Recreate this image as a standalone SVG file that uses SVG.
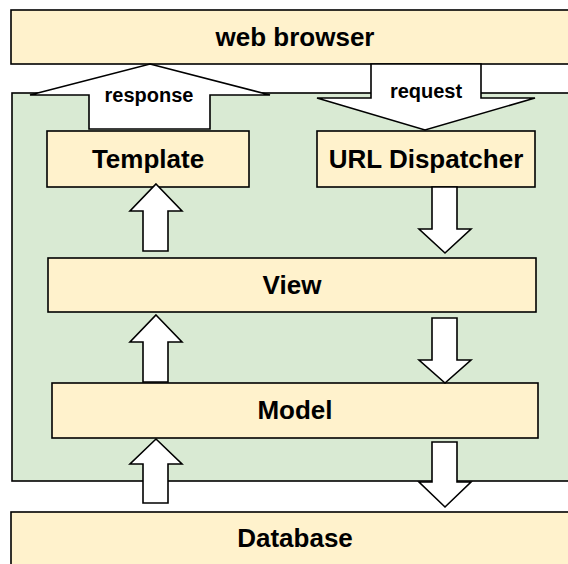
<svg xmlns="http://www.w3.org/2000/svg" width="568" height="564" viewBox="0 0 568 564">
  <style>
    .box { fill: #fff2cc; stroke: #000; stroke-width: 1.6; }
    .area { fill: #d9ead3; stroke: #000; stroke-width: 1.6; }
    .arrow { fill: #fff; stroke: #000; stroke-width: 1.6; stroke-linejoin: miter; }
    .lbl { font-family: "Liberation Sans", Arial, sans-serif; font-weight: bold; font-size: 26px; fill: #000; text-anchor: middle; }
    .small { font-size: 20px; }
  </style>
  <rect width="568" height="564" fill="#fff"/>

  <!-- application area -->
  <rect id="app-area" class="area" x="12" y="93" width="570" height="388"/>

  <g id="web-browser">
    <rect class="box" x="11" y="10" width="572" height="54"/>
    <text class="lbl" x="295" y="46">web browser</text>
  </g>

  <g id="database">
    <rect class="box" x="11" y="512" width="572" height="60"/>
    <text class="lbl" x="295" y="547">Database</text>
  </g>

  <g id="template">
    <rect class="box" x="47" y="131" width="202" height="56"/>
    <text class="lbl" x="148" y="168">Template</text>
  </g>

  <g id="url-dispatcher">
    <rect class="box" x="317" y="131" width="218" height="56"/>
    <text class="lbl" x="426" y="168">URL Dispatcher</text>
  </g>

  <g id="view">
    <rect class="box" x="48" y="258" width="488" height="54"/>
    <text class="lbl" x="292" y="294">View</text>
  </g>

  <g id="model">
    <rect class="box" x="52" y="383" width="486" height="55"/>
    <text class="lbl" x="295" y="419">Model</text>
  </g>

  <g id="connectors">
    <!-- response: application to browser -->
    <polygon class="arrow" points="150,64 270,95 210,95 210,129 89,129 89,95 30,95"/>
    <text class="lbl small" x="149" y="102">response</text>
    <!-- request: browser to dispatcher -->
    <polygon class="arrow" points="371,64 481,64 481,98 535,98 425,130 317,98 371,98"/>
    <text class="lbl small" x="426" y="98">request</text>

    <!-- upward flow -->
    <polygon class="arrow" points="156,184 182,211 168,211 168,251 143,251 143,211 130,211"/>
    <polygon class="arrow" points="156,315 182,342 168,342 168,382 143,382 143,342 130,342"/>
    <polygon class="arrow" points="156,439 182,464 168,464 168,503 143,503 143,464 130,464"/>

    <!-- downward flow -->
    <polygon class="arrow" points="432,187 457,187 457,229 471,229 445,253 419,229 432,229"/>
    <polygon class="arrow" points="432,318 457,318 457,360 471,360 445,383 419,360 432,360"/>
    <polygon class="arrow" points="432,442 457,442 457,482 471,482 445,507 419,482 432,482"/>
  </g>
</svg>
